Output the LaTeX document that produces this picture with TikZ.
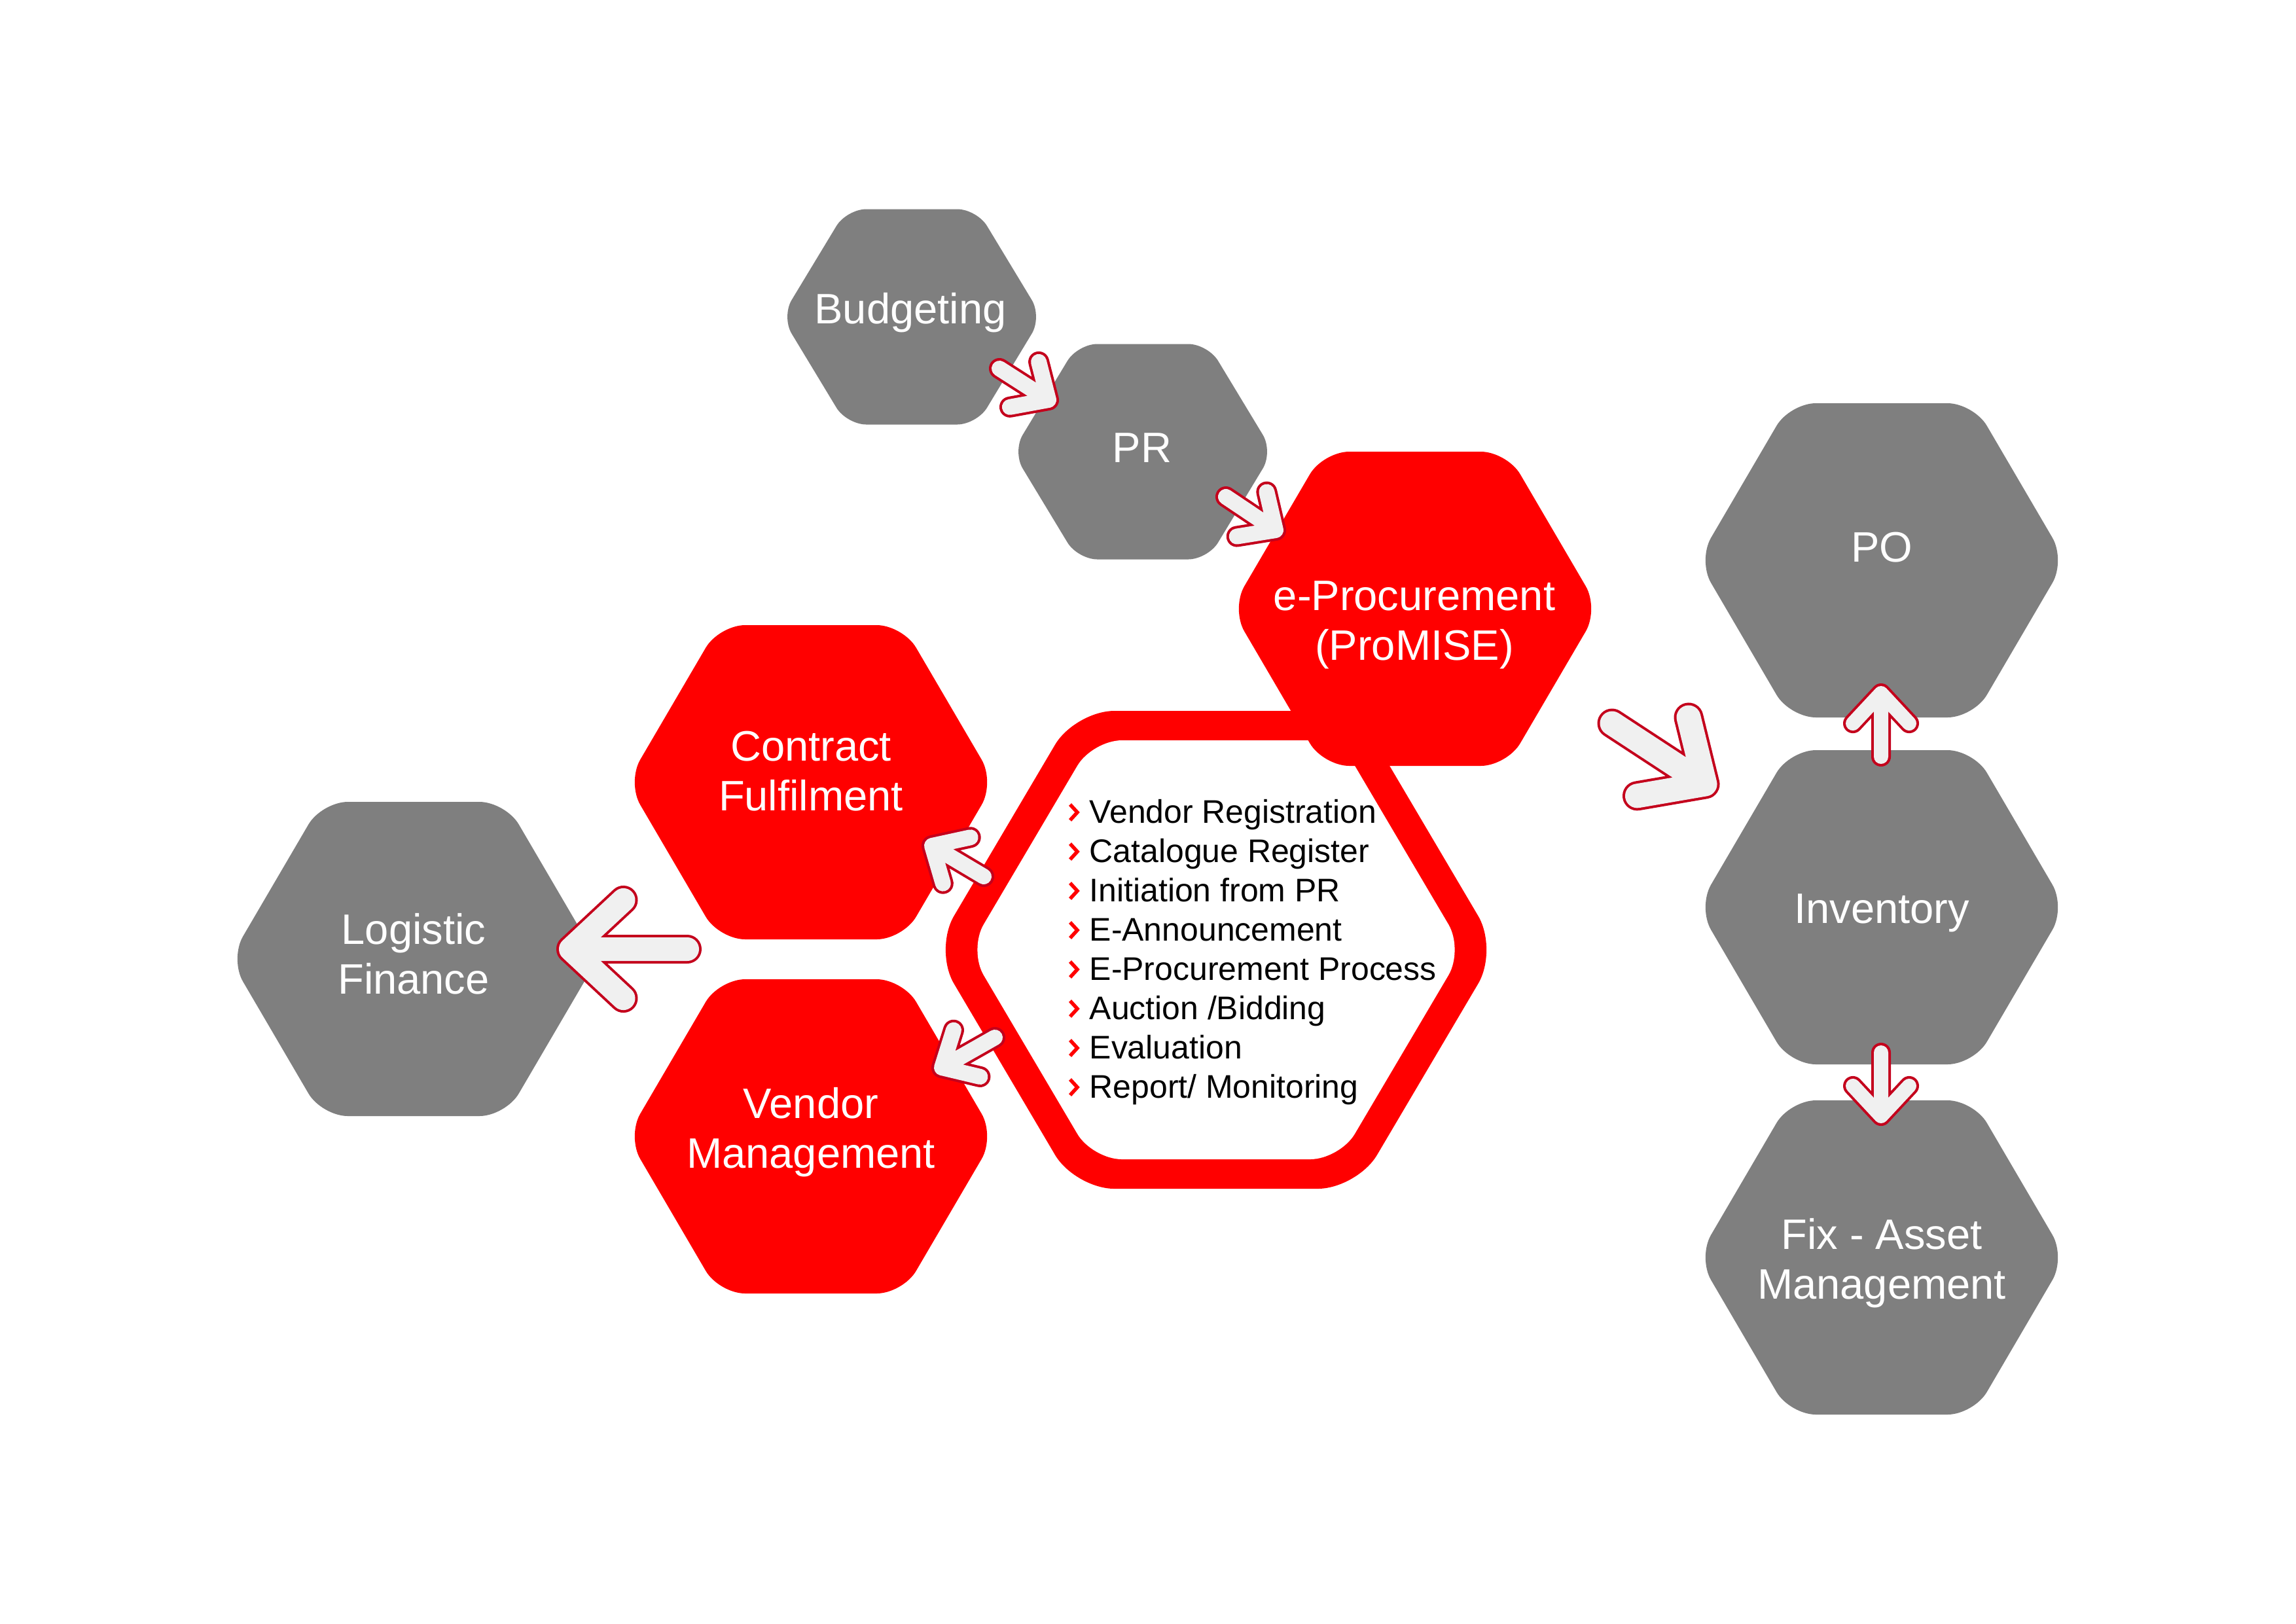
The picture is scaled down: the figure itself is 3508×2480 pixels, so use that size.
\documentclass[tikz,border=0pt]{standalone}
\usepackage{fontspec}
\setmainfont{Liberation Sans}
\usetikzlibrary{calc}

\definecolor{hexgray}{HTML}{7F7F7F}
\definecolor{hexred}{HTML}{FF0000}
\definecolor{arrowline}{HTML}{C4001C}
\definecolor{arrowfill}{HTML}{F0F0F0}

% flat-topped hexagon with rounded corners:
% centre, half width, half height, corner rounding, fill colour
\newcommand\hexshape[5]{%
  \fill[#5, rounded corners=#4] (#1) +({0.75*#2},{0.5*#3}) -- +(#2,0)
    -- +({0.5*#2},{-#3}) -- +({-0.5*#2},{-#3}) -- +({-#2},0)
    -- +({-0.5*#2},#3) -- +({0.5*#2},#3) -- cycle;}

% outlined chevron arrow: tail, tip, wing length, body width
\newcommand\chevarrow[4]{%
  \draw[arrowline, line width=#4+0.08cm, line cap=round, line join=round]
    (#1) -- (#2) ($(#2)!#3!43:(#1)$) -- (#2) -- ($(#2)!#3!-43:(#1)$);
  \draw[arrowfill, line width=#4, line cap=round, line join=round]
    (#1) -- (#2) ($(#2)!#3!43:(#1)$) -- (#2) -- ($(#2)!#3!-43:(#1)$);}

\tikzset{
  hexlabel/.style={text=white, align=center, inner sep=0pt,
    font=\fontsize{18.5}{21.6}\selectfont},
  listitem/.style={anchor=base west, inner sep=0pt, text=black,
    font=\fontsize{14.2}{17}\selectfont},
  bullet/.style={draw=hexred, line width=0.055cm, line join=miter},
}

\begin{document}
\begin{tikzpicture}[x=0.01cm, y=-0.01cm]
\useasboundingbox (0,0) rectangle (3508,2480);
\fill[white] (0,0) rectangle (3508,2480);

% hexagon centres
\coordinate (budC) at (1393,484);
\coordinate (prC) at (1746,690);
\coordinate (eprocC) at (2162,930);
\coordinate (contractC) at (1239,1195);
\coordinate (vendorC) at (1239,1736);
\coordinate (logisticC) at (632,1465);
\coordinate (poC) at (2875,856);
\coordinate (invC) at (2875,1386);
\coordinate (fixC) at (2875,1921);
\coordinate (coreC) at (1858,1451);

% hexagons
\hexshape{budC}{199}{164.5}{0.3cm}{hexgray}
\hexshape{prC}{199}{164.5}{0.3cm}{hexgray}
\hexshape{contractC}{281}{240}{0.4cm}{hexred}
\hexshape{vendorC}{281}{240}{0.4cm}{hexred}
\hexshape{logisticC}{281}{240}{0.4cm}{hexgray}
\hexshape{poC}{281}{240}{0.4cm}{hexgray}
\hexshape{invC}{281}{240}{0.4cm}{hexgray}
\hexshape{fixC}{281}{240}{0.4cm}{hexgray}
% central ring
\hexshape{coreC}{431}{365}{0.6cm}{hexred}
\hexshape{coreC}{378}{320}{0.45cm}{white}
\hexshape{eprocC}{281}{240}{0.4cm}{hexred}

% labels
\node[hexlabel] (bud) at (1391,478) {Budgeting};
\node[hexlabel] (pr) at (1745,684) {PR};
\node[hexlabel] (eproc) at (2161,955) {e-Procurement\\(ProMISE)};
\node[hexlabel] (contract) at (1239,1178) {Contract\\Fulfilment};
\node[hexlabel] (vendor) at (1239,1730) {Vendor\\Management};
\node[hexlabel] (logistic) at (632,1457) {Logistic\\Finance};
\node[hexlabel] (po) at (2875,836) {PO};
\node[hexlabel] (inv) at (2875,1395) {Inventory};
\node[hexlabel] (fix) at (2875,1930) {Fix - Asset\\Management};

% list inside the central hexagon
\foreach \i/\t in {1/{Vendor Registration}, 2/{Catalogue Register},
    3/{Initiation from PR}, 4/{E-Announcement}, 5/{E-Procurement Process},
    6/{Auction /Bidding}, 7/{Evaluation}, 8/{Report/ Monitoring}} {
  \node[listitem] (l\i) at (1664,{1257+60*(\i-1)}) {\t};
  \draw[bullet] ($(l\i.base west)+(-29,-28)$) -- ($(l\i.base west)+(-18,-16)$)
    -- ($(l\i.base west)+(-29,-4)$);
}

% arrow end points
\coordinate (a1) at (1527,563);  \coordinate (a2) at (1602,611);
\coordinate (b1) at (1873,759);  \coordinate (b2) at (1949,810);
\coordinate (c1) at (2463,1105); \coordinate (c2) at (2605,1198);
\coordinate (d1) at (2874,1156); \coordinate (d2) at (2874,1059);
\coordinate (e1) at (2874,1608); \coordinate (e2) at (2874,1705);
\coordinate (f1) at (1050,1450); \coordinate (f2) at (872,1450);
\coordinate (g1) at (1503,1339); \coordinate (g2) at (1424,1292);
\coordinate (h1) at (1520,1585); \coordinate (h2) at (1439,1631);

% arrows
\chevarrow{a1}{a2}{0.6cm}{0.24cm}
\chevarrow{b1}{b2}{0.6cm}{0.24cm}
\chevarrow{c1}{c2}{1.05cm}{0.37cm}
\chevarrow{d1}{d2}{0.63cm}{0.22cm}
\chevarrow{e1}{e2}{0.63cm}{0.22cm}
\chevarrow{f1}{f2}{1.1cm}{0.36cm}
\chevarrow{g1}{g2}{0.6cm}{0.24cm}
\chevarrow{h1}{h2}{0.6cm}{0.24cm}
\end{tikzpicture}
\end{document}
